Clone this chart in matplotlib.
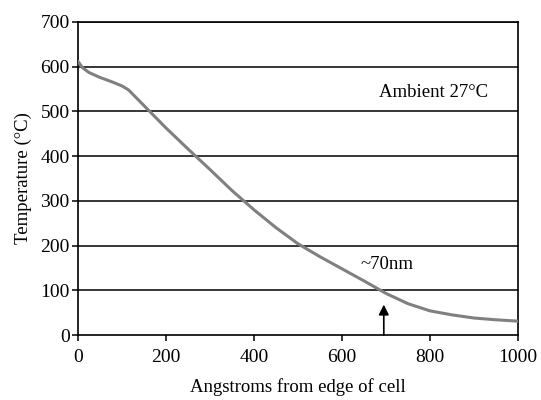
import matplotlib
matplotlib.use("Agg")
import matplotlib.pyplot as plt

# data
x_vals = [0, 10, 25, 50, 75, 100, 115, 130, 150, 175, 200, 250, 300, 350, 400, 450, 500, 550, 600, 650, 700, 750, 800, 850, 900, 950, 1000]
temps  = [612, 598, 587, 576, 567, 557, 548, 533, 513, 488, 463, 416, 370, 323, 280, 240, 204, 175, 148, 121, 93, 70, 54, 45, 38, 34, 31]
x_ticks = [0, 200, 400, 600, 800, 1000]
y_ticks = [0, 100, 200, 300, 400, 500, 600, 700]
arrow_x = 695
arrow_top = 68

plt.rcParams['font.family'] = ['Liberation Serif', 'DejaVu Serif']

fig = plt.figure(figsize=(5.41, 4.0), dpi=100)
ax = fig.add_axes([78/541, 1-335/400, 440/541, 313/400])

for yv in y_ticks[1:]:
    ax.axhline(yv, color='black', lw=1.1, zorder=1)

ax.plot(x_vals, temps, color='#808080', lw=2.2, zorder=3,
        solid_joinstyle='round', solid_capstyle='round')

ax.annotate('', xy=(arrow_x, arrow_top), xytext=(arrow_x, 0),
            arrowprops=dict(arrowstyle='-|>', color='black', lw=1.2,
                            mutation_scale=15, shrinkA=0, shrinkB=0), zorder=4)

ax.text(808, 543, 'Ambient 27°C', fontsize=13.5, ha='center', va='center')
ax.text(702, 157, '~70nm', fontsize=13.5, ha='center', va='center')

ax.set_xlim(0, 1000)
ax.set_ylim(0, 700)
ax.set_xticks(x_ticks)
ax.set_yticks(y_ticks)
ax.tick_params(labelsize=14, length=4, width=1.1, color='black')
ax.tick_params(axis='x', pad=6)
ax.tick_params(axis='y', pad=2)
for s in ax.spines.values():
    s.set_linewidth(1.2)
    s.set_color('black')

ax.set_xlabel('Angstroms from edge of cell', fontsize=13.5, labelpad=9)
ax.set_ylabel('Temperature (°C)', fontsize=13.5, labelpad=6)

fig.savefig('out.png', dpi=100)
